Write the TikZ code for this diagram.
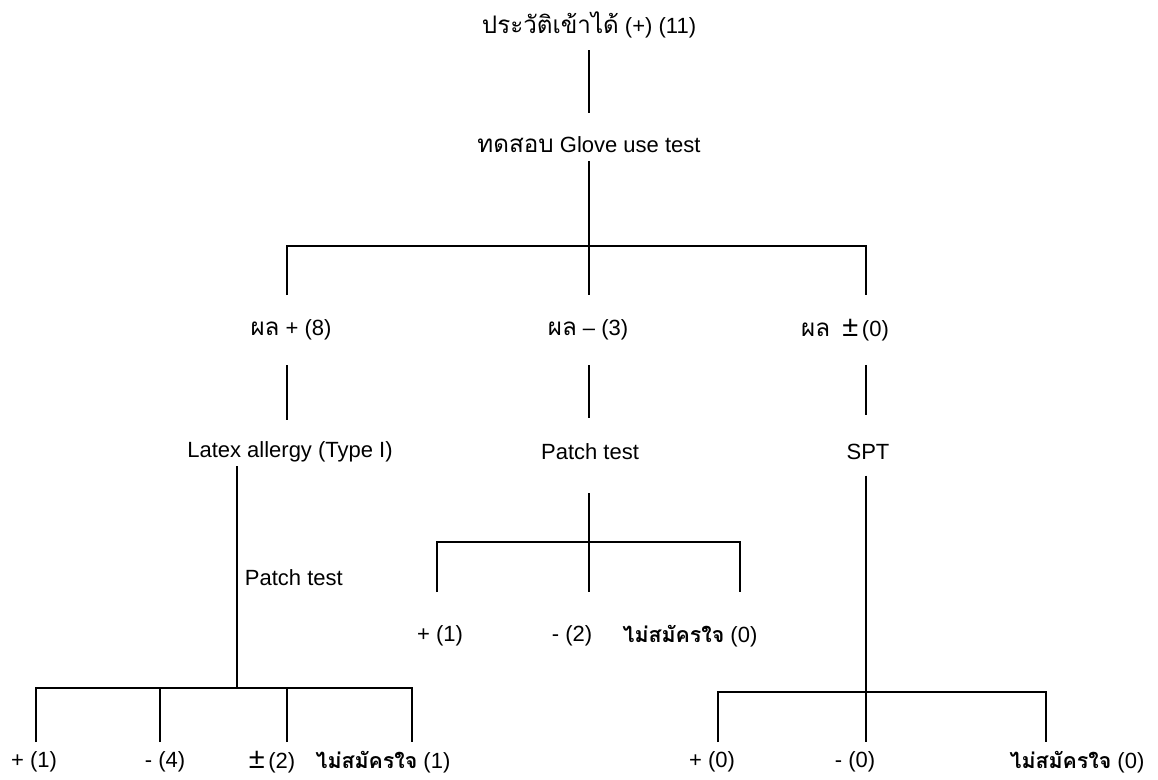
\documentclass[tikz,border=0pt]{standalone}
\usepackage{fontspec}
\setmainfont{Liberation Sans}
\newfontfamily\thaifont[Script=Thai,Scale=1.1]{Loma}
\newfontfamily\thaibold[Script=Thai,Scale=0.97]{Loma Bold}
\usetikzlibrary{calc}

\newcommand{\thtxt}[1]{{\thaifont #1}}
\newcommand{\nottest}{{\thaibold ไม่สมัครใจ}}
\newcommand{\bigpm}{{\fontsize{29}{29}\selectfont ±}}

\begin{document}
\begin{tikzpicture}[x=1pt,y=-1pt,
    every node/.style={inner sep=0pt,font=\fontsize{22}{26}\selectfont},
    line width=1.9pt]
\useasboundingbox (0,0) rectangle (1158,779);

% history and glove test
\node (hist) at (589,25) {\thtxt{ประวัติเข้าได้} (+) (11)};
\node (glove) at (589,145) {\thtxt{ทดสอบ} Glove use test};
\draw[shorten <=11pt, shorten >=23pt] (hist) -- (glove);

% three results of the glove test
\coordinate (jTop) at (589,246);
\coordinate (bf1) at (287,295);
\coordinate (bf2) at (589,295);
\coordinate (bf3) at (866,295);
\draw[shorten <=7pt] (glove) -- (jTop);
\draw (bf1) |- (jTop) -| (bf3);
\draw (jTop) -- (bf2);

\node (pos) at (291,330) {\thtxt{ผล} + (8)};
\node (neg) at (588,330) {\thtxt{ผล} – (3)};
\node (pm) at (845,330) {\thtxt{ผล}\ \ \bigpm\,(0)};

\node (latex) at (290,452) {Latex allergy (Type I)};
\node (patch) at (590,452) {Patch test};
\node (spt) at (868,452) {SPT};
\draw[shorten <=24pt, shorten >=21pt] (pos.south -| bf1) -- (latex.north -| bf1);
\draw[shorten <=24pt, shorten >=25pt] (neg.south -| bf2) -- (patch.north -| bf2);
\draw[shorten <=23pt, shorten >=28pt] (pm.south -| bf3) -- (spt.north -| bf3);

% patch test after a negative glove test
\coordinate (jMid) at (589,542);
\coordinate (mf1) at (437,592);
\coordinate (mf2) at (589,592);
\coordinate (mf3) at (740,592);
\draw[shorten <=32pt] (patch.south -| jMid) -- (jMid);
\draw (mf1) |- (jMid) -| (mf3);
\draw (jMid) -- (mf2);
\node (mpos) at (440,636) {+ (1)};
\node (mneg) at (572,636) {- (2)};
\node (mno) at (690,636) {\nottest\ (0)};

% patch test in latex allergy
\coordinate (jL) at (237,688);
\coordinate (lf1) at (36,742);
\coordinate (lf2) at (160,742);
\coordinate (lf3) at (287,742);
\coordinate (lf4) at (412,742);
\draw[shorten <=3pt] (latex.south -| jL) -- (jL);
\node[anchor=west] (lpatch) at (244,578) {Patch test};
\draw (lf1) |- (jL) -| (lf4);
\draw (lf2) -- (lf2 |- jL);
\draw (lf3) -- (lf3 |- jL);
\node (lpos) at (34,762) {+ (1)};
\node (lneg) at (165,762) {- (4)};
\node (lpm) at (272,762) {\bigpm\,(2)};
\node (lno) at (383,762) {\nottest\ (1)};

% SPT
\coordinate (jR) at (866,692);
\coordinate (rf1) at (718,742);
\coordinate (rf2) at (866,742);
\coordinate (rf3) at (1046,742);
\draw[shorten <=15pt] (spt.south -| jR) -- (jR);
\draw (rf1) |- (jR) -| (rf3);
\draw (jR) -- (rf2);
\node (rpos) at (712,762) {+ (0)};
\node (rneg) at (855,762) {- (0)};
\node (rno) at (1077,762) {\nottest\ (0)};
\end{tikzpicture}
\end{document}
